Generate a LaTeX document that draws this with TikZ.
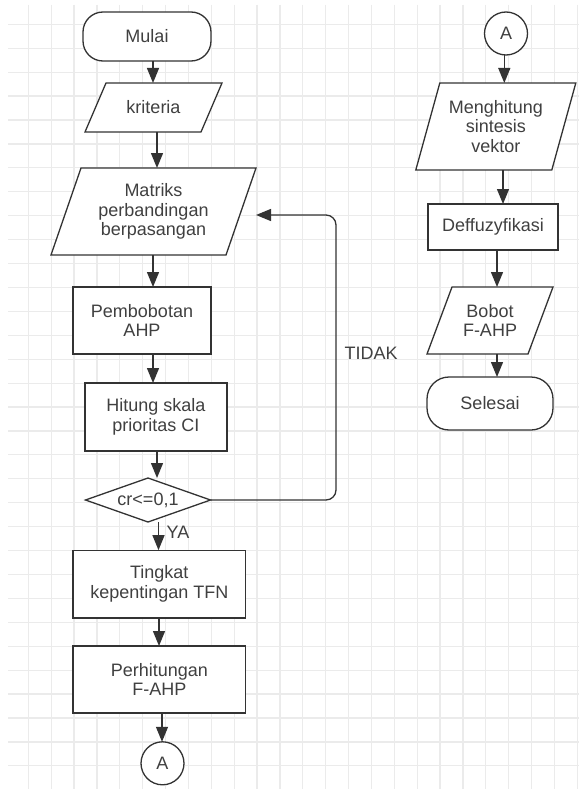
\documentclass[tikz,border=0pt]{standalone}
\usepackage{fontspec}
\setmainfont{Liberation Sans}
\usetikzlibrary{arrows.meta,shapes.geometric}
\definecolor{linec}{HTML}{333333}
\definecolor{textc}{HTML}{404040}
\definecolor{gridc}{HTML}{EBEBEB}
\pgfdeclarelayer{gridlayer}
\pgfdeclarelayer{shapelayer}
\pgfsetlayers{gridlayer,shapelayer,main}
\newcommand\mkpara[2]{%
  \begin{pgfonlayer}{shapelayer}
  \draw[outline,fill=white] ([xshift=#2]#1.north west) -- (#1.north east) -- ([xshift=-#2]#1.south east) -- (#1.south west) -- cycle;
  \end{pgfonlayer}}
\tikzset{
  txt/.style={text=textc, font=\fontsize{18}{19.5}\selectfont, align=center},
  outline/.style={draw=linec, line width=1.3pt},
  proc/.style={txt, outline, fill=white, rectangle, inner sep=2pt, outer sep=0pt},
  term/.style={proc},
  para/.style={txt, rectangle, inner sep=2pt, outer sep=0pt},
  decis/.style={txt, outline, fill=white, diamond, aspect=2.84, inner sep=0pt, outer sep=0pt, minimum width=125pt, minimum height=44pt},
  conn/.style={txt, outline, fill=white, circle, inner sep=0pt, outer sep=0pt, minimum size=43pt},
  lbl/.style={txt, inner sep=0pt},
  arr/.style={draw=linec, line width=1.3pt, -{Triangle[length=15pt,width=12pt]}},
  gridline/.style={draw=gridc, line width=1.2pt}
}
\begin{document}
\begin{tikzpicture}[x=1pt,y=-1pt]
\useasboundingbox (0,0) rectangle (579,789);
\begin{pgfonlayer}{gridlayer}
\fill[white] (0,0) rectangle (579,789);
\foreach \k in {0,...,24} \draw[gridline] ({28.3+22.875*\k},5) -- ({28.3+22.875*\k},789);
\foreach \k in {0,...,31} \draw[gridline] (8,{24.3+23.92*\k}) -- (579,{24.3+23.92*\k});
\end{pgfonlayer}

% left column
\node[term, minimum width=128pt, minimum height=49pt, rounded corners=20pt] (mulai) at (147,36.5) {Mulai};
\node[para, minimum width=137pt, minimum height=49pt] (krit) at (153.5,107.5) {kriteria};
\mkpara{krit}{21pt}
\node[para, minimum width=205pt, minimum height=87pt] (matriks) at (153.5,211.5) {Matriks\\perbandingan\\berpasangan};
\mkpara{matriks}{30pt}
\node[proc, minimum width=138pt, minimum height=67pt] (pemb) at (142,320.5) {Pembobotan\\AHP};
\node[proc, minimum width=142pt, minimum height=68pt] (hitung) at (156,417) {Hitung skala\\prioritas CI};
\node[decis] (dec) at (148,500) {cr<=0,1};
\node[proc, minimum width=172.7pt, minimum height=67.7pt] (tingkat) at (159.3,584) {Tingkat\\kepentingan TFN};
\node[proc, minimum width=172.7pt, minimum height=67pt] (perh) at (159.3,679.5) {Perhitungan\\F-AHP};
\node[conn] (ca1) at (162.5,763.3) {A};

% right column
\node[conn] (ca2) at (506,33.5) {A};
\node[para, minimum width=160pt, minimum height=87pt] (mengh) at (495.8,126.5) {Menghitung\\sintesis\\vektor};
\mkpara{mengh}{24pt}
\node[proc, minimum width=130pt, minimum height=46pt] (deff) at (493,227) {Deffuzyfikasi};
\node[para, minimum width=126pt, minimum height=67pt] (bobot) at (490,320.5) {Bobot\\F-AHP};
\mkpara{bobot}{25pt}
\node[term, minimum width=126pt, minimum height=53pt, rounded corners=22pt] (selesai) at (490,403.5) {Selesai};

% labels
\node[lbl] (tidak) at (371,353.3) {TIDAK};
\node[lbl] (ya) at (178,532) {YA};

% connectors left
\draw[arr] ([xshift=6pt]mulai.south) -- ([xshift=-0.5pt]krit.north);
\draw[arr] ([xshift=3.5pt]krit.south) -- ([xshift=3.5pt]matriks.north);
\draw[arr] ([xshift=-0.5pt]matriks.south) -- ([xshift=11pt]pemb.north);
\draw[arr] ([xshift=11pt]pemb.south) -- ([xshift=-3pt]hitung.north);
\draw[arr] ([xshift=1pt]hitung.south) -- ([xshift=9pt]dec.north);
\draw[arr] ([xshift=10.5pt]dec.south) -- ([xshift=-0.8pt]tingkat.north);
\draw[arr] ([xshift=-0.3pt]tingkat.south) -- ([xshift=-0.3pt]perh.north);
\draw[arr] ([xshift=2.7pt]perh.south) -- ([xshift=-0.5pt]ca1.north);
\coordinate (lp) at (336,215);
\draw[arr, rounded corners=10pt] (dec.east) -| (lp) -- ([yshift=-3.5pt]matriks.east);

% connectors right
\draw[arr] ([xshift=-1.7pt]ca2.south) -- ([xshift=8.5pt]mengh.north);
\draw[arr] ([xshift=7.2pt]mengh.south) -- ([xshift=10pt]deff.north);
\draw[arr] ([xshift=4pt]deff.south) -- ([xshift=7pt]bobot.north);
\draw[arr] ([xshift=7pt]bobot.south) -- ([xshift=7pt]selesai.north);
\end{tikzpicture}
\end{document}
